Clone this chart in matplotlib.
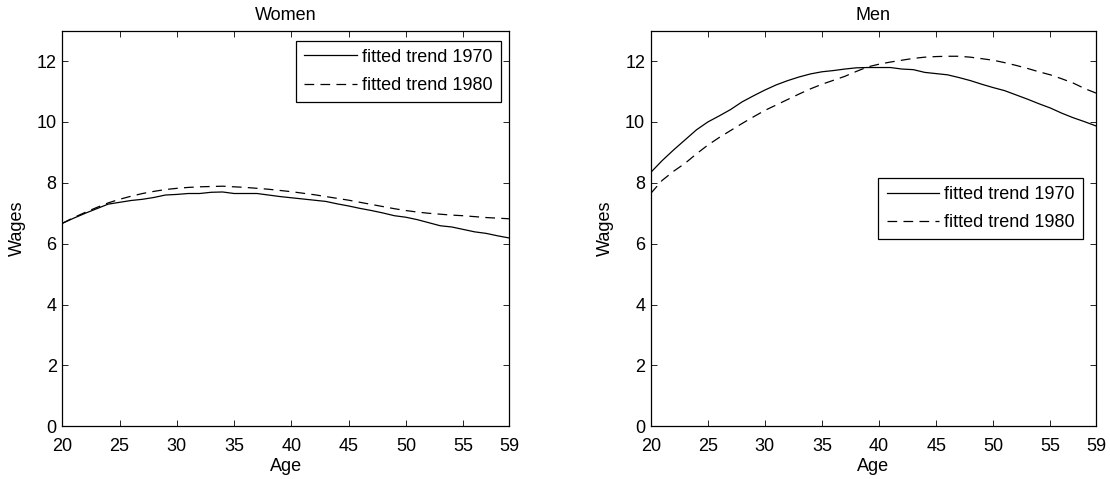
import matplotlib
matplotlib.use("Agg")
import matplotlib.pyplot as plt

ages = list(range(20, 60))

women_1970 = [6.67, 6.84, 7.00, 7.15, 7.30, 7.36, 7.42, 7.46, 7.52, 7.60,
              7.62, 7.65, 7.65, 7.69, 7.70, 7.65, 7.65, 7.65, 7.60, 7.55,
              7.51, 7.47, 7.43, 7.39, 7.31, 7.24, 7.16, 7.09, 7.01, 6.92,
              6.87, 6.79, 6.69, 6.59, 6.55, 6.47, 6.39, 6.34, 6.26, 6.19]
women_1980 = [6.67, 6.86, 7.03, 7.19, 7.34, 7.46, 7.56, 7.65, 7.72, 7.78,
              7.82, 7.85, 7.87, 7.88, 7.89, 7.87, 7.85, 7.82, 7.79, 7.75,
              7.71, 7.66, 7.61, 7.55, 7.49, 7.43, 7.36, 7.29, 7.22, 7.15,
              7.09, 7.04, 7.00, 6.97, 6.94, 6.92, 6.89, 6.86, 6.84, 6.82]
men_1970 = [8.34, 8.73, 9.08, 9.41, 9.74, 10.00, 10.20, 10.41, 10.66, 10.86,
            11.05, 11.22, 11.36, 11.48, 11.58, 11.65, 11.69, 11.74, 11.78, 11.79,
            11.79, 11.79, 11.74, 11.72, 11.63, 11.59, 11.55, 11.46, 11.36, 11.24,
            11.13, 11.03, 10.89, 10.75, 10.60, 10.46, 10.29, 10.14, 10.01, 9.87]
men_1980 = [7.65, 8.08, 8.38, 8.64, 8.95, 9.24, 9.49, 9.72, 9.95, 10.17,
            10.38, 10.56, 10.74, 10.92, 11.09, 11.24, 11.37, 11.50, 11.66, 11.81,
            11.90, 11.97, 12.03, 12.09, 12.13, 12.15, 12.16, 12.16, 12.13, 12.08,
            12.03, 11.95, 11.86, 11.76, 11.65, 11.55, 11.42, 11.28, 11.10, 10.95]

xticks = [20, 25, 30, 35, 40, 45, 50, 55, 59]
yticks = [0, 2, 4, 6, 8, 10, 12]
labels = ["fitted trend 1970", "fitted trend 1980"]

FS = 13
plt.rcParams['font.family'] = ['Liberation Sans', 'DejaVu Sans']
plt.rcParams['font.size'] = FS
plt.rcParams['lines.scale_dashes'] = False

fig = plt.figure(figsize=(11.1, 4.79), dpi=100)
W, H = 1110, 479
def axes_px(x0, x1, y0, y1):
    return fig.add_axes([x0 / W, 1 - y1 / H, (x1 - x0) / W, (y1 - y0) / H])

ax1 = axes_px(62.3, 509, 30.7, 426.3)
ax2 = axes_px(650.7, 1096, 30.7, 426.3)

panels = [
    (ax1, "Women", women_1970, women_1980, (0.982, 0.975)),
    (ax2, "Men", men_1970, men_1980, (0.971, 0.628)),
]

for ax, title, s70, s80, anchor in panels:
    ax.plot(ages, s70, color='black', lw=0.9, ls='-', label=labels[0])
    ax.plot(ages, s80, color='black', lw=0.9, ls=(0, (7, 4.5)), label=labels[1])
    ax.set_xlim(20, 59)
    ax.set_ylim(0, 13)
    ax.set_xticks(xticks)
    ax.set_yticks(yticks)
    ax.tick_params(direction='in', length=4, width=0.6, top=True, right=True,
                   labelsize=FS)
    ax.tick_params(axis='x', pad=8.5)
    ax.tick_params(axis='y', pad=4)
    for sp in ax.spines.values():
        sp.set_linewidth(0.9)
    ax.set_title(title, fontsize=FS, pad=8)
    ax.set_xlabel("Age", fontsize=FS, labelpad=2)
    ax.set_ylabel("Wages", fontsize=FS, labelpad=8)
    leg = ax.legend(loc='upper right', bbox_to_anchor=anchor, borderaxespad=0,
                    fancybox=False, framealpha=1, edgecolor='black',
                    handlelength=2.9, handletextpad=0.3, labelspacing=0.62,
                    borderpad=0.45, fontsize=FS)
    leg.get_frame().set_linewidth(0.9)

fig.savefig("out.png", dpi=100)
